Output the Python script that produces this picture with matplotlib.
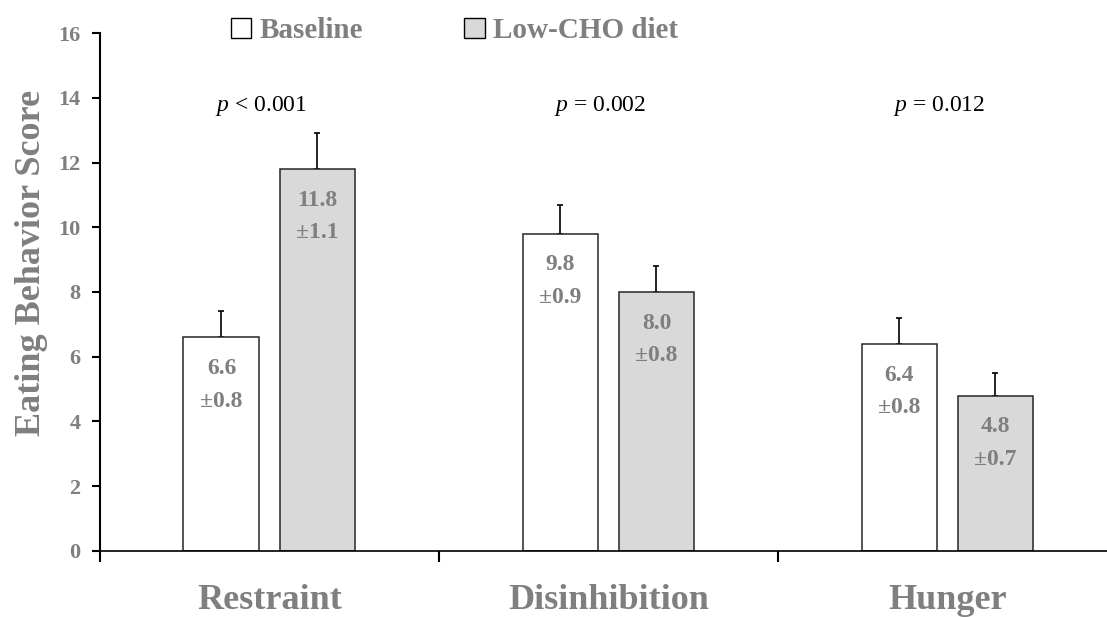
import matplotlib
matplotlib.use("Agg")
import matplotlib.pyplot as plt
from matplotlib.patches import Patch
import numpy as np

# Data
categories = ["Restraint", "Disinhibition", "Hunger"]
baseline_mean = [6.6, 9.8, 6.4]
baseline_sem = [0.8, 0.9, 0.8]
lowcho_mean = [11.8, 8.0, 4.8]
lowcho_sem = [1.1, 0.8, 0.7]
p_values = ["< 0.001", "= 0.002", "= 0.012"]
series_names = ["Baseline", "Low-CHO diet"]
y_ticks = [0, 2, 4, 6, 8, 10, 12, 14, 16]

plt.rcParams["font.family"] = ["Liberation Serif", "DejaVu Serif"]
plt.rcParams["mathtext.fontset"] = "custom"
plt.rcParams["mathtext.rm"] = "Liberation Serif"
plt.rcParams["mathtext.it"] = "Liberation Serif:italic"

GREY = "#7f7f7f"
EDGE = "#262626"

fig = plt.figure(figsize=(11.07, 6.17), dpi=100)
ax = fig.add_axes([0.0903, 0.107, 0.9097, 0.8395])

x = np.arange(len(categories))
offset = 0.1416
width = 0.224

ax.bar(x - offset, baseline_mean, width, color="white",
       edgecolor=EDGE, linewidth=1.1, zorder=2)
ax.bar(x + offset, lowcho_mean, width, color="#d9d9d9",
       edgecolor=EDGE, linewidth=1.1, zorder=2)

# upward-only error bars
ax.errorbar(x - offset, baseline_mean, yerr=[np.zeros(3), baseline_sem],
            fmt="none", ecolor="black", elinewidth=1.2, capsize=2.3,
            capthick=1.2, zorder=1)
ax.errorbar(x + offset, lowcho_mean, yerr=[np.zeros(3), lowcho_sem],
            fmt="none", ecolor="black", elinewidth=1.2, capsize=2.3,
            capthick=1.2, zorder=1)

# value labels inside bars
for xs, means, sems in ((x - offset, baseline_mean, baseline_sem),
                        (x + offset, lowcho_mean, lowcho_sem)):
    for xi, m, s in zip(xs, means, sems):
        ax.annotate(f"{m:.1f}", (xi, m), xytext=(0, -22.5),
                    textcoords="offset points", ha="center", va="center",
                    fontsize=17, fontweight="bold", color=GREY, zorder=3)
        ax.annotate(f"±{s:.1f}", (xi, m), xytext=(0, -46),
                    textcoords="offset points", ha="center", va="center",
                    fontsize=17, fontweight="bold", color=GREY, zorder=3)

# p-values
for xi, p in zip(x, p_values):
    ax.text(xi - 0.024, 13.75, r"$p$ " + p, ha="center", va="center",
            fontsize=17, color="black")

ax.set_yticks(y_ticks)
ax.set_yticklabels([str(t) for t in y_ticks], fontsize=16,
                   fontweight="bold", color=GREY)
ax.tick_params(axis="y", direction="out", length=6, width=1.5, color="black",
               pad=8)

ax.set_xticks(x)
ax.set_xticklabels(categories, fontsize=26, fontweight="bold", color=GREY)
ax.tick_params(axis="x", which="major", length=0, pad=24)
ax.set_xticks(np.arange(-0.5, 3.0, 1.0), minor=True)
ax.tick_params(axis="x", which="minor", direction="out", length=8, width=1.5,
               color="black")

# limits last so the tick setters don't widen them
ax.set_xlim(-0.5, -0.5 + 1007 / 339)
ax.set_ylim(0, 16)

ax.set_ylabel("Eating Behavior Score", fontsize=26, fontweight="bold",
              color=GREY)
ax.yaxis.set_label_coords(-0.0516, 0.556)

for side in ("top", "right"):
    ax.spines[side].set_visible(False)
ax.spines["left"].set_linewidth(1.5)
ax.spines["bottom"].set_linewidth(1.2)
ax.spines["bottom"].set_color("black")

handles = [Patch(facecolor="white", edgecolor="black", linewidth=1.0),
           Patch(facecolor="#d9d9d9", edgecolor="black", linewidth=1.0)]
leg = fig.legend(handles, series_names, loc="center left",
                 bbox_to_anchor=(0.198, 0.950), ncol=2, frameon=False,
                 handlelength=0.7, handleheight=0.7, handletextpad=0.3,
                 columnspacing=3.45, borderaxespad=0,
                 prop={"size": 21, "weight": "bold"})
for t in leg.get_texts():
    t.set_color(GREY)

fig.savefig("out.png", dpi=100)
